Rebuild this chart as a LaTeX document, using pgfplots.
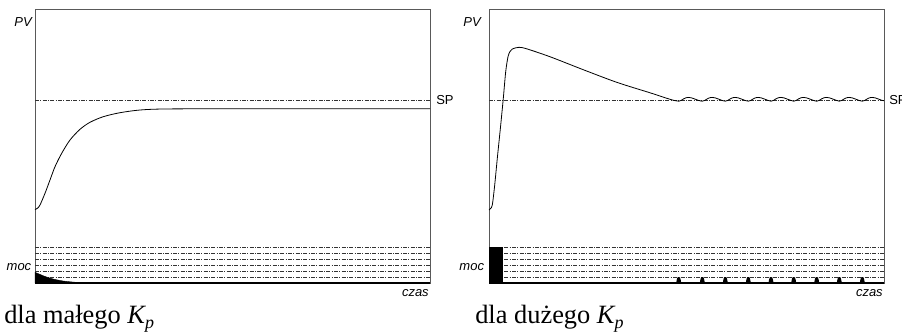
\documentclass[border=0pt]{standalone}
\usepackage{fontspec}
\setmainfont{Liberation Serif}
\newfontfamily\lab{Liberation Sans}
\usepackage{pgfplots}
\pgfplotsset{compat=1.18}
\pgfplotsset{
  kpaxis/.style={scale only axis, width=296.25pt, height=205.5pt,
    xmin=0, xmax=395, ymin=0, ymax=274, xtick=\empty, ytick=\empty,
    axis line style={black!65, line width=0.6pt}, clip=false, anchor=south west},
}
\tikzset{
  dd/.style={black!80, line width=0.45pt, dash pattern=on 3pt off 1pt on 0.75pt off 1pt},
  lbl/.style={font=\lab\fontsize{9.75}{11}\selectfont\itshape, inner sep=0pt},
  lblu/.style={font=\lab\fontsize{9.75}{11}\selectfont, inner sep=0pt},
}
\begin{document}
\begin{tikzpicture}
\useasboundingbox (0,0) rectangle (676.5pt,-251.25pt);
\clip (0,0) rectangle (676.5pt,-251.25pt);
% ---------------- left: small Kp ----------------
\begin{axis}[kpaxis, at={(26.25pt,-212.25pt)}]
  \addplot[dd] coordinates {(0,6) (395,6)};
  \addplot[dd] coordinates {(0,12) (395,12)};
  \addplot[dd] coordinates {(0,18) (395,18)};
  \addplot[dd] coordinates {(0,24) (395,24)};
  \addplot[dd] coordinates {(0,30) (395,30)};
  \addplot[dd] coordinates {(0,36) (395,36)};
  \addplot[dd] coordinates {(0,182.5) (395,182.5)};
  \addplot[fill=black, draw=black, line width=0.3pt] coordinates {(0,10.7) (4,9) (8,7.3) (13,5.5) (18,4) (23,2.9) (28,2) (35,1.2) (42,0.6) (52,0.2) (65,0)} \closedcycle;
  \addplot[black, line width=0.6pt, smooth] coordinates {
    (0,73.5) (2.5,74.8) (5,78) (10,89.7) (15,103) (20,116.3) (26.7,129.7) (35,143)
    (45,153.7) (55,160.7) (68.3,166.3) (85,170.3) (105,173) (128,174) (175,174.2) (260,174.2) (395,174.2)};
  \addplot[black, line width=1.2pt] coordinates {(0,0) (395,0)};
  \node[lbl, anchor=east] at (axis cs:-3,261) {PV};
  \node[lbl, anchor=east] at (axis cs:-3.5,16) {moc};
  \node[lbl, anchor=east] at (axis cs:394,-10.3) {czas};
  \node[lblu, anchor=west] at (axis cs:401,182.5) {SP};
\end{axis}
% ---------------- right: large Kp ----------------
\begin{axis}[kpaxis, at={(366.75pt,-212.25pt)}]
  \addplot[dd] coordinates {(0,6) (395,6)};
  \addplot[dd] coordinates {(0,12) (395,12)};
  \addplot[dd] coordinates {(0,18) (395,18)};
  \addplot[dd] coordinates {(0,24) (395,24)};
  \addplot[dd] coordinates {(0,30) (395,30)};
  \addplot[dd] coordinates {(0,36) (395,36)};
  \addplot[dd] coordinates {(0,182.5) (395,182.5)};
  \addplot[fill=black, draw=none] coordinates {(0,36) (14,36)} \closedcycle;
  \addplot[fill=black, draw=none] coordinates {
    (187.2,0) (187.7,3) (188.4,5.5) (189.7,6) (191.0,5.5) (191.7,3) (192.2,0)
    (210.8,0) (211.3,3) (212.0,5.5) (213.3,6) (214.6,5.5) (215.3,3) (215.8,0)
    (233.8,0) (234.3,3) (235.0,5.5) (236.3,6) (237.6,5.5) (238.3,3) (238.8,0)
    (256.8,0) (257.3,3) (258.0,5.5) (259.3,6) (260.6,5.5) (261.3,3) (261.8,0)
    (279.5,0) (280.0,3) (280.7,5.5) (282.0,6) (283.3,5.5) (284.0,3) (284.5,0)
    (302.2,0) (302.7,3) (303.4,5.5) (304.7,6) (306.0,5.5) (306.7,3) (307.2,0)
    (325.2,0) (325.7,3) (326.4,5.5) (327.7,6) (329.0,5.5) (329.7,3) (330.2,0)
    (347.8,0) (348.3,3) (349.0,5.5) (350.3,6) (351.6,5.5) (352.3,3) (352.8,0)
    (370.8,0) (371.3,3) (372.0,5.5) (373.3,6) (374.6,5.5) (375.3,3) (375.8,0)} \closedcycle;
  \addplot[black, line width=0.6pt, smooth, tension=0.5] coordinates {
    (0,73) (1.5,74.5) (3.3,78) (5.7,98) (8.3,124.7) (11.7,158) (14.3,184.7) (16.7,211.3)
    (19,226.3) (21,231.5) (23.3,234) (30,235.7) (38.3,234) (61.7,226) (95,213)
    (128.3,200.5) (161.7,190) (181.7,183.5) (189.7,181.8)
    (192.2,182.6) (194.7,184.2) (197.2,185.3) (199.7,185.6) (202.7,185.1) (205.7,184.0) (209.2,182.7)
    (213.3,181.8) (215.8,182.6) (218.3,184.2) (220.8,185.3) (223.3,185.6) (226.3,185.1) (229.3,184.0) (232.8,182.7)
    (236.3,181.8) (238.8,182.6) (241.3,184.2) (243.8,185.3) (246.3,185.6) (249.3,185.1) (252.3,184.0) (255.8,182.7)
    (259.3,181.8) (261.8,182.6) (264.3,184.2) (266.8,185.3) (269.3,185.6) (272.3,185.1) (275.3,184.0) (278.8,182.7)
    (282.0,181.8) (284.5,182.6) (287.0,184.2) (289.5,185.3) (292.0,185.6) (295.0,185.1) (298.0,184.0) (301.5,182.7)
    (304.7,181.8) (307.2,182.6) (309.7,184.2) (312.2,185.3) (314.7,185.6) (317.7,185.1) (320.7,184.0) (324.2,182.7)
    (327.7,181.8) (330.2,182.6) (332.7,184.2) (335.2,185.3) (337.7,185.6) (340.7,185.1) (343.7,184.0) (347.2,182.7)
    (350.3,181.8) (352.8,182.6) (355.3,184.2) (357.8,185.3) (360.3,185.6) (363.3,185.1) (366.3,184.0) (369.8,182.7)
    (373.3,181.8) (375.8,182.6) (378.3,184.2) (380.8,185.3) (383.3,185.6) (386.3,185.1) (389.3,184.0) (392.8,182.7) (395,182.3)};
  \addplot[black, line width=1.2pt] coordinates {(0,0) (395,0)};
  \node[lbl, anchor=east] at (axis cs:-8,261) {PV};
  \node[lbl, anchor=east] at (axis cs:-4.7,16) {moc};
  \node[lbl, anchor=east] at (axis cs:394,-10.3) {czas};
  \node[lblu, anchor=west] at (axis cs:400,182.5) {SP};
\end{axis}
% captions
\node[anchor=base west, inner sep=0pt, font=\fontsize{19.8}{22}\selectfont] at (3pt,-242.5pt)
  {dla małego {\itshape K}\raisebox{-3.7pt}{\fontsize{13.5}{13.5}\selectfont\itshape p}};
\node[anchor=base west, inner sep=0pt, font=\fontsize{19.8}{22}\selectfont] at (356.25pt,-242.5pt)
  {dla dużego {\itshape K}\raisebox{-3.7pt}{\fontsize{13.5}{13.5}\selectfont\itshape p}};
\end{tikzpicture}
\end{document}
